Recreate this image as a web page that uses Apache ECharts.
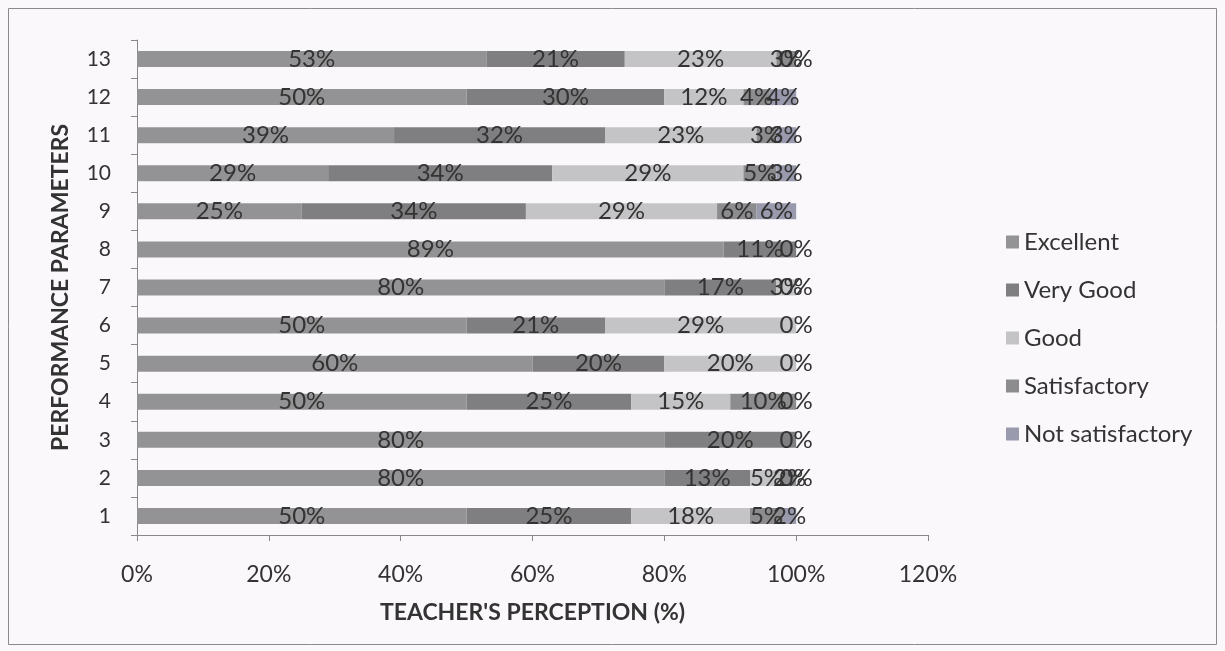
<!DOCTYPE html>
<html><head><meta charset="utf-8">
<script src="https://cdn.jsdelivr.net/npm/echarts@6/dist/echarts.min.js"></script>
<style>html,body{margin:0;padding:0;background:#faf8fb;}#c{width:1225px;height:651px;}</style>
</head><body><div id="c"></div>
<script>
const categories = ['1','2','3','4','5','6','7','8','9','10','11','12','13'];
const seriesNames = ['Excellent','Very Good','Good','Satisfactory','Not satisfactory'];
const excellent       = [50, 80, 80, 50, 60, 50, 80, 89, 25, 29, 39, 50, 53];
const veryGood        = [25, 13, 20, 25, 20, 21, 17, 11, 34, 34, 32, 30, 21];
const good            = [18,  5,  0, 15, 20, 29,  3,  0, 29, 29, 23, 12, 23];
const satisfactory    = [ 5,  2, null, 10,  0,  0,  0, null,  6,  5,  3,  4,  3];
const notSatisfactory = [ 2,  0, null,  0, null, null, null, null,  6,  3,  3,  4,  0];
const xTicks = [0, 20, 40, 60, 80, 100, 120];

const colors = ['#939395','#7f7f81','#c4c4c6','#8c8c8e','#9a9aae'];
const values = [excellent, veryGood, good, satisfactory, notSatisfactory];
const font = 'Lato, "Open Sans", sans-serif';

const chart = echarts.init(document.getElementById('c'), null, {renderer:'canvas'});
chart.setOption({
  backgroundColor: '#faf8fb',
  animation: false,
  graphic: [{type:'rect', shape:{x:8.5,y:8.5,width:1208,height:636}, style:{fill:'none', stroke:'#8a8a8a', lineWidth:1}}],
  grid: {left:137, right:297, top:40, bottom:116, containLabel:false},
  legend: {
    orient:'vertical', left:1001, top:225, itemGap:24, itemWidth:13, itemHeight:13,
    icon:'rect', data: seriesNames,
    textStyle:{fontFamily:font, fontSize:24, color:'#333'}
  },
  xAxis: {
    type:'value', min:xTicks[0], max:xTicks[xTicks.length-1], interval:20,
    axisLine:{show:true, lineStyle:{color:'#888'}},
    axisTick:{show:true, length:6, lineStyle:{color:'#888'}},
    splitLine:{show:false},
    axisLabel:{fontFamily:font, fontSize:23, color:'#333', margin:28, formatter: v => v + '%'},
    name:"TEACHER'S PERCEPTION (%)", nameLocation:'middle', nameGap:66,
    nameTextStyle:{fontFamily:font, fontSize:23, fontWeight:'bold', color:'#333'}
  },
  yAxis: {
    type:'category', data: categories,
    axisLine:{show:true, lineStyle:{color:'#888'}},
    axisTick:{show:true, length:6, lineStyle:{color:'#888'}},
    axisLabel:{fontFamily:font, fontSize:21, color:'#333', margin:26},
    name:'PERFORMANCE PARAMETERS', nameLocation:'middle', nameGap:65, nameRotate:90,
    nameTextStyle:{fontFamily:font, fontSize:23, fontWeight:'bold', color:'#333'}
  },
  series: seriesNames.map((n,i) => ({
    name:n, type:'bar', stack:'total', barWidth:16,
    data: values[i],
    itemStyle:{color:colors[i]},
    label:{show:true, position:'inside', formatter: p => p.value + '%',
      fontFamily:font, fontSize:24, color:'#333', textBorderWidth:0}
  }))
});
</script></body></html>
